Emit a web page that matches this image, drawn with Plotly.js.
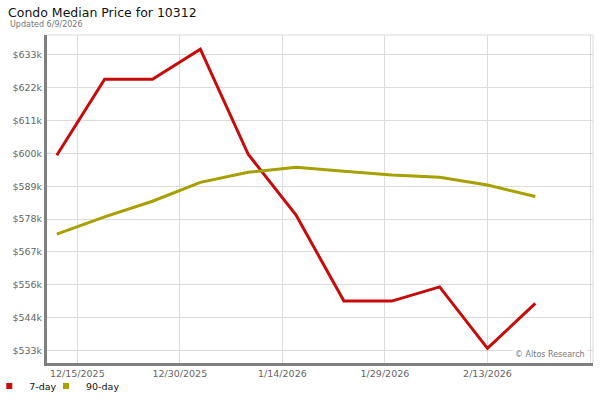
<!DOCTYPE html>
<html><head><meta charset="utf-8">
<script src="https://cdn.plot.ly/plotly-3.0.1.min.js"></script>
<style>html,body{margin:0;padding:0;background:#fff}#chart{width:600px;height:400px}</style>
</head><body><div id="chart"></div>
<script>
const dates = ['2025-12-12','2025-12-19','2025-12-26','2026-01-02','2026-01-09','2026-01-16','2026-01-23','2026-01-30','2026-02-06','2026-02-13','2026-02-20'];
const sevenDay = [599400, 625100, 625100, 635300, 599700, 579100, 550000, 550000, 554800, 534000, 549200];
const ninetyDay = [572700, 578500, 583800, 590200, 593600, 595300, 594000, 592700, 591900, 589300, 585400];
const seriesNames = ['7-day', '90-day'];
const xTickDates = ['2025-12-15','2025-12-30','2026-01-14','2026-01-29','2026-02-13','2026-02-28'];
const xTickLabels = ['12/15/2025','12/30/2025','1/14/2026','1/29/2026','2/13/2026','2/28/2026'];
const yTickValues = [533333,544444,555556,566667,577778,588889,600000,611111,622222,633333];
const yTickLabels = ['$533k','$544k','$556k','$567k','$578k','$589k','$600k','$611k','$622k','$633k'];

const RED = '#c80a0a', OLIVE = '#a6a000';
const FONT = 'DejaVu Sans, Verdana, sans-serif';

const traces = [
  {x: dates, y: sevenDay, mode: 'lines', line: {color: RED, width: 3}, name: seriesNames[0], legendgroup: 'a', showlegend: false},
  {x: dates, y: ninetyDay, mode: 'lines', line: {color: OLIVE, width: 3}, name: seriesNames[1], legendgroup: 'b', showlegend: false},
  {x: [null], y: [null], mode: 'markers', marker: {symbol: 'square', size: 6, color: RED}, name: seriesNames[0], legendgroup: 'a', showlegend: true, legend: 'legend'},
  {x: [null], y: [null], mode: 'markers', marker: {symbol: 'square', size: 6, color: OLIVE}, name: seriesNames[1], legendgroup: 'b', showlegend: true, legend: 'legend2'}
];

const legendBase = {
  orientation: 'h', xanchor: 'left', y: -0.07, yanchor: 'middle',
  font: {family: FONT, size: 9.5, color: '#111'}, itemwidth: 30,
  bgcolor: 'rgba(0,0,0,0)'
};

const layout = {
  width: 600, height: 400,
  margin: {l: 47, r: 7, t: 35, b: 37, pad: 0, autoexpand: false},
  paper_bgcolor: '#fff', plot_bgcolor: '#fff',
  font: {family: FONT, size: 9.5, color: '#666'},
  title: {
    text: 'Condo Median Price for 10312',
    x: 8/600, xanchor: 'left', xref: 'container',
    y: 1 - 13/400, yanchor: 'middle',
    font: {family: FONT, size: 12.5, color: '#111'}
  },
  xaxis: {
    type: 'date', range: ['2025-12-10 13:40', '2026-02-28 10:30'],
    tickmode: 'array', tickvals: xTickDates, ticktext: xTickLabels,
    showgrid: true, gridcolor: '#dcdcdc', gridwidth: 1,
    showline: true, linecolor: '#808080', linewidth: 3,
    ticks: '', zeroline: false, tickfont: {family: FONT, size: 9.5, color: '#666'},
    fixedrange: true
  },
  yaxis: {
    range: [529030, 640100],
    tickmode: 'array', tickvals: yTickValues, ticktext: yTickLabels,
    showgrid: true, gridcolor: '#dcdcdc', gridwidth: 1,
    showline: true, linecolor: '#808080', linewidth: 3,
    ticks: '', zeroline: false, tickfont: {family: FONT, size: 9.5, color: '#666'},
    fixedrange: true
  },
  shapes: [
    {type: 'line', xref: 'paper', yref: 'paper', x0: 0, x1: 1, y0: 1, y1: 1, line: {color: '#dcdcdc', width: 1}},
    {type: 'line', xref: 'paper', yref: 'paper', x0: 1, x1: 1, y0: 0, y1: 1, line: {color: '#dcdcdc', width: 1}}
  ],
  annotations: [
    {text: 'Updated 6/9/2026', xref: 'paper', yref: 'paper', x: -0.0714, y: 1.0305,
     xanchor: 'left', yanchor: 'middle', showarrow: false,
     font: {family: FONT, size: 8, color: '#777'}},
    {text: '© Altos Research', xref: 'paper', yref: 'paper', x: 0.9908, y: 0.0274,
     xanchor: 'right', yanchor: 'middle', showarrow: false, bgcolor: '#fff', borderpad: 2,
     font: {family: FONT, size: 8, color: '#777'}}
  ],
  showlegend: true,
  legend: Object.assign({}, legendBase, {x: -0.1057}),
  legend2: Object.assign({}, legendBase, {x: -0.0018})
};

Plotly.newPlot('chart', traces, layout, {displayModeBar: false, staticPlot: true});
</script>
</body></html>
